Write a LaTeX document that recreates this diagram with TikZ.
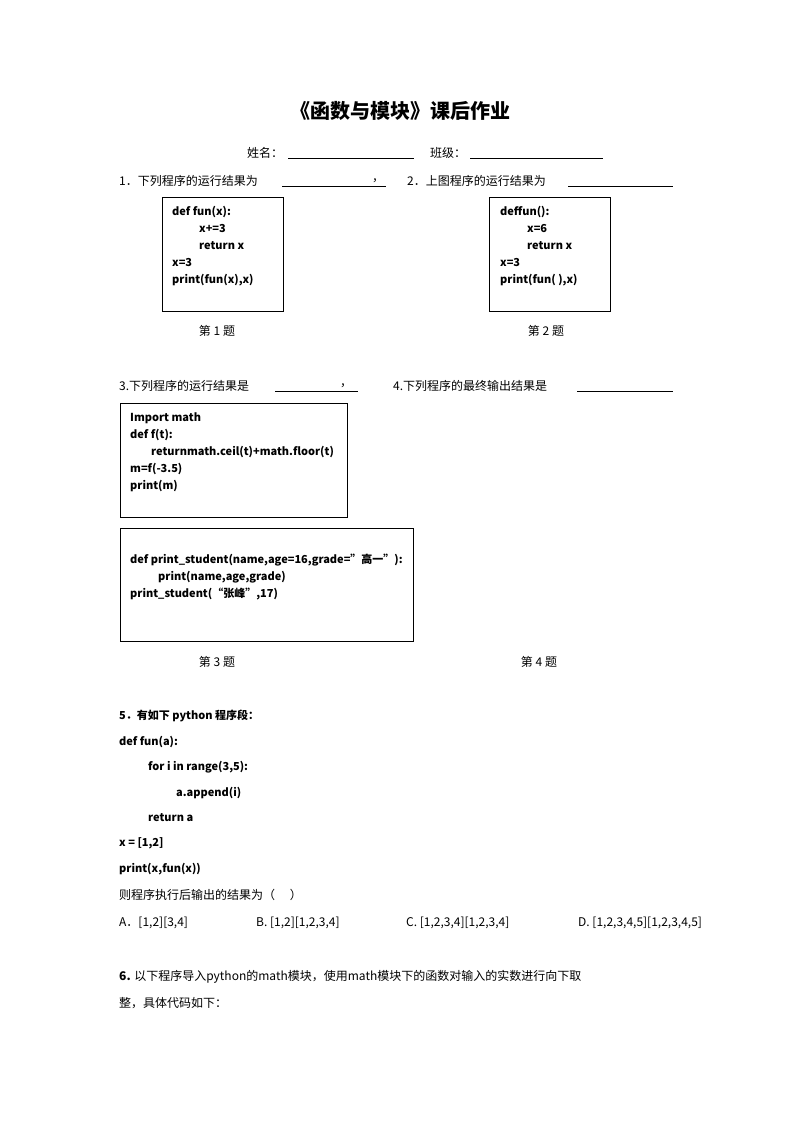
\documentclass[tikz,border=0pt]{standalone}
\usepackage{fontspec}
\setmainfont{Liberation Serif}
\newfontfamily\cjk{Noto Sans CJK SC}
\begin{document}
\begin{tikzpicture}[x=1pt,y=-1pt,
  t/.style={anchor=west,inner sep=0pt,font=\cjk\fontsize{12}{14}\selectfont},
  code/.style={anchor=west,inner sep=0pt,font=\cjk\bfseries\fontsize{11}{13}\selectfont},
  captext/.style={anchor=center,inner sep=0pt,font=\cjk\fontsize{12}{14}\selectfont},
  boxst/.style={draw,line width=0.8pt},
  ul/.style={line width=0.6pt}]
\useasboundingbox (0,0) rectangle (794,1123);
\node[anchor=center,inner sep=0pt,font=\cjk\bfseries\fontsize{20}{24}\selectfont] (title) at (400,111) {《函数与模块》课后作业};
\node[t] (xm) at (247,153) {姓名：};
\draw[ul] (288,158) -- (414,158);
\node[t] (bj) at (430,153) {班级：};
\draw[ul] (470,158) -- (603,158);
\node[t] (q1) at (119,181) {1．下列程序的运行结果为};
\draw[ul] (282,186) -- (386,186);
\node[t] (c1) at (372,181) {，};
\node[t] (q2) at (407,181) {2．上图程序的运行结果为};
\draw[ul] (568,186) -- (673,186);
\draw[boxst] (162,197) rectangle (283,311);
\node[code] (a1) at (172,212) {def fun(x):};
\node[code] (a2) at (199,229) {x+=3};
\node[code] (a3) at (199,246) {return x};
\node[code] (a4) at (172,263) {x=3};
\node[code] (a5) at (172,280) {print(fun(x),x)};
\draw[boxst] (489,197) rectangle (610,311);
\node[code] (b1) at (500,212) {deffun():};
\node[code] (b2) at (527,229) {x=6};
\node[code] (b3) at (527,246) {return x};
\node[code] (b4) at (500,263) {x=3};
\node[code] (b5) at (500,280) {print(fun( ),x)};
\node[captext] (k1) at (217,331) {第 1 题};
\node[captext] (k2) at (546,331) {第 2 题};
\node[t] (q3) at (119,386) {3.下列程序的运行结果是};
\draw[ul] (275,391) -- (358,391);
\node[t] (c3) at (340,386) {，};
\node[t] (q4) at (393,386) {4.下列程序的最终输出结果是};
\draw[ul] (577,391) -- (673,391);
\draw[boxst] (120,403) rectangle (347,517);
\node[code] (d1) at (130,418) {Import math};
\node[code] (d2) at (130,435) {def f(t):};
\node[code] (d3) at (151,452) {returnmath.ceil(t)+math.floor(t)};
\node[code] (d4) at (130,469) {m=f(-3.5)};
\node[code] (d5) at (130,486) {print(m)};
\draw[boxst] (120,528) rectangle (413,641);
\node[code] (e1) at (130,560) {def print\_student(name,age=16,grade=”高一”):};
\node[code] (e2) at (158,577) {print(name,age,grade)};
\node[code] (e3) at (130,594) {print\_student(“张峰”,17)};
\node[captext] (k3) at (217,662) {第 3 题};
\node[captext] (k4) at (539,662) {第 4 题};
\node[code] (f0) at (119,716) {5．有如下 python 程序段：};
\node[code] (f1) at (119,742) {def fun(a):};
\node[code] (f2) at (148,767) {for i in range(3,5):};
\node[code] (f3) at (176,793) {a.append(i)};
\node[code] (f4) at (148,818) {return a};
\node[code] (f5) at (119,843) {x = [1,2]};
\node[code] (f6) at (119,869) {print(x,fun(x))};
\node[t] (f7) at (119,895) {则程序执行后输出的结果为（\quad\ ）};
\node[t] (oa) at (119,923) {A．[1,2][3,4]};
\node[t] (ob) at (256,923) {B. [1,2][1,2,3,4]};
\node[t] (oc) at (406,923) {C. [1,2,3,4][1,2,3,4]};
\node[t] (od) at (578,923) {D. [1,2,3,4,5][1,2,3,4,5]};
\node[t] (g1) at (119,977) {\textbf{6.} 以下程序导入python的math模块，使用math模块下的函数对输入的实数进行向下取};
\node[t] (g2) at (119,1003) {整，具体代码如下：};
\end{tikzpicture}
\end{document}
